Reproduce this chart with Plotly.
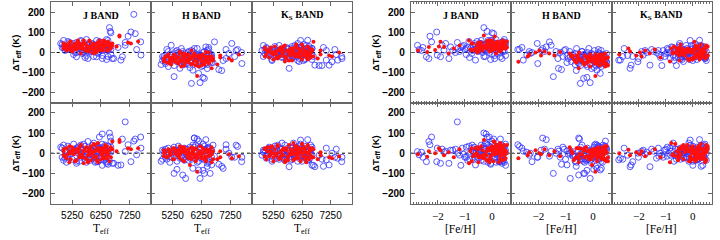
import plotly.graph_objects as go

# ---------------- data ----------------
# Blue open circles: one entry per star (Teff, [Fe/H], and the six Delta Teff values)
BLUE_TEFF = [7100, 7500, 5900, 6100, 5800, 7200, 7640, 7300, 7650, 5400,
             6000, 6400, 5600, 6700, 5200, 6500, 5300, 5500, 7100, 5800,
             6200, 5050, 6600, 5700, 6050, 5350, 6450, 4950, 5950, 6850,
             6550, 6580, 6600, 7450, 7400, 5900, 6300, 6350, 6200, 6150,
             5950, 5400, 6950, 7000, 6650, 6450, 6100, 6000, 5600, 6150,
             6500, 6450, 6350, 4850, 4950, 5000, 5100, 5150, 5250, 5300,
             5450, 5500, 5550, 5650, 5700, 5750, 5850, 5900, 6000, 6050,
             6100, 6200, 6250, 6300, 6350, 6400, 6450, 6500, 6300, 5200,
             5750, 6150, 4900, 5550,
             4900, 5000, 5100, 5200, 5300, 5400, 5450, 5550, 5650, 5750,
             5800, 5900, 5950, 6050, 6100, 6150, 6250, 6300, 6350, 6400,
             6450, 6500, 6550, 6600, 5050, 5350, 5600, 6000, 6200, 5850]
BLUE_FEH = [-2.75, -2.69, -2.55, -2.42, -2.33, -2.29, -2.23, -2.04, -2.02, -1.9,
            -1.84, -1.71, -1.77, -1.59, -1.53, -2.6, -1.45, -1.26, -1.28, -1.2,
            -1.1, -1.0, -0.95, -0.83, -0.79, -1.35, -1.05, -0.9, -0.73, -1.15,
            -0.3, -0.18, 0.0, 0.06, -3.3, -0.46, -0.22, -0.34, -0.1, 0.27,
            0.15, 0.03, -0.61, 0.31, 0.37, 0.25, -0.49, -0.52, -0.52, 0.46,
            -0.05, 0.1, 0.2, -0.65, -0.4, 0.1, -0.2, 0.35, -0.55, 0.0,
            0.2, -0.3, 0.4, -0.1, 0.25, -0.45, 0.05, 0.3, -0.25, 0.15,
            -0.6, 0.45, -0.15, 0.1, -0.4, 0.35, -0.05, 0.2, 0.5, -0.7,
            0.45, -0.35, 0.3, -0.15,
            -0.3, 0.4, -0.85, 0.15, -0.45, 0.3, -0.05, -0.65, 0.5, 0.1,
            -0.25, 0.4, -0.4, 0.25, 0.0, -0.75, 0.3, -0.2, 0.45, -0.5,
            0.15, -0.3, 0.4, -0.1, -0.15, 0.5, 0.2, 0.35, -0.55, -0.95]
BLUE_J1 = [36, 15, 25, -21, -30, 81, 53, 102, -13, -21,
           36, 45, 12, -30, 28, 10, 10, 20, 50, 5,
           30, 15, -10, -25, 20, 0, 35, 25, 10, 25,
           124, 105, 98, 94, 190, 30, 40, 15, 25, 20,
           35, 50, -38, -21, -30, 40, 20, 10, 5, 30,
           60, 30, 40, 45, 60, 30, 15, 50, 25, -10,
           40, 20, 55, 0, 35, 10, 45, 20, -20, 15,
           35, 5, 50, -30, 25, 40, -35, 15, -15, 35,
           65, 0, 25, 60,
           40, 10, 55, 20, 45, 0, 30, 15, 50, -15,
           35, 5, 45, 25, 60, -5, 30, 10, 45, 20,
           65, -20, 30, 15, 25, 35, -5, 40, 55, 20]
BLUE_H1 = [15, 15, -38, -13, 5, -5, 0, 45, -55, 10,
           20, 28, 5, 53, 36, 25, -120, -79, -30, 0,
           -20, 15, -50, -20, -45, 5, 10, -30, -10, -85,
           -30, -20, -10, 10, -20, -154, -124, -129, -150, -104,
           -88, -46, -90, -40, -50, -60, -20, -30, -35, -21,
           -5, -30, -40, -60, -20, -45, -70, -10, -35, -25,
           0, -50, -15, -60, -5, -40, -75, 10, -30, -55,
           20, -40, -15, -65, 5, -35, -80, 15, -45, -25,
           -55, -10, -40, 20,
           -20, -55, 5, -40, -65, -15, -35, -5, -50, -30,
           -60, -20, 5, -45, -35, -15, -70, 0, -40, -55,
           -25, -10, -45, -20, -30, -5, -45, -25, -50, -15]
BLUE_K1 = [-38, -38, 20, -15, -79, -63, -20, -46, -30, 5,
           -13, 0, 10, -63, 15, -20, 5, -10, 10, -25,
           10, -5, 20, -30, 28, 0, -20, 15, -15, -65,
           10, -5, 20, -10, 15, -30, 20, -10, 60, 10,
           -20, 0, -65, 25, -20, 61, 45, 0, -10, -30,
           15, -20, 0, 10, -5, 20, -15, 5, -25, 30,
           -10, 15, -20, 0, 25, -30, 10, -15, 35, -5,
           15, -25, 5, 40, -35, 20, -10, 30, -40, -40,
           15, -45, 35, 0,
           -20, 25, 0, -35, 15, -10, 35, -25, 5, 20,
           -5, 30, -20, 10, -40, 25, -15, 10, -30, 35,
           0, -20, 15, -35, 5, -15, 20, -10, 25, 0]
BLUE_J2 = [8, -8, -20, -42, 58, 42, 80, -42, 25, -50,
           20, 10, 5, -50, 15, 5, 15, 0, 155, -10,
           25, -20, 30, -30, 5, 20, -5, -35, 40, -60,
           100, 80, 60, 70, 60, 20, 95, -10, 80, -42,
           10, 25, -58, 70, -50, -42, 5, -20, 15, 10,
           -55, -20, 30, 30, 40, 10, -10, 20, -30, 45,
           0, -40, 25, -15, 35, 10, -25, 15, 50, -45,
           0, 30, -20, 20, -35, 40, -50, 10, -60, 5,
           -45, 15, -20, 40,
           25, -25, 35, -5, 10, -40, 30, -20, 45, -5,
           20, -35, 5, 35, -15, 25, -30, 45, 0, -25,
           15, 35, -40, 5, -45, 15, 0, -10, 20, -20]
BLUE_H2 = [42, 33, 10, 5, -10, 0, -42, -20, -20, 15,
           75, 67, 20, -15, 10, 25, -100, 10, 20, -20,
           30, -30, -58, -125, 10, 0, 20, -5, -15, -55,
           -100, 10, -20, 40, -20, -30, -85, -100, -125, -83,
           -75, -80, -65, -75, 40, -30, 70, 75, -108, 60,
           -30, -65, -10, -40, 10, -20, 25, -45, 5, -10,
           35, -25, 15, -35, 20, -5, 30, -15, 0, 40,
           -45, 25, -10, 45, -30, 15, -50, 30, -20, -5,
           20, -40, 15, -20,
           -30, 20, 0, -20, 30, -40, 10, -15, 25, -5,
           -35, 15, 40, -25, 5, -10, 20, -30, 35, -15,
           25, -45, 5, 15, -10, 15, -25, 30, -20, 10]
BLUE_K2 = [-33, -25, 25, -10, -67, -58, -42, 0, -20, 10,
           15, 5, -5, -67, 20, -30, 10, -15, 25, 0,
           -20, 20, 30, -10, 10, -25, 15, 0, 50, -10,
           0, 20, -60, 20, -20, -30, 10, -20, 65, 5,
           15, -10, -30, -65, -60, 67, 10, -5, 0, 25,
           10, 15, -10, -10, 15, -25, 30, 5, -20, 35,
           -30, 20, -5, 40, -15, 25, -35, 10, -20, 30,
           -5, 45, -40, 20, -15, 35, -5, -30, 0, -40,
           15, -25, 5, 50,
           15, -10, 25, -30, 5, 40, -15, 20, -35, 10,
           -20, 30, -5, 20, -40, 35, -10, 25, -25, 5,
           -35, 15, 40, -10, -5, 25, -25, 0, 20, -15]

# Red filled dots: one entry per star
RED_TEFF = [6300, 6100, 5800, 6500, 5900, 6200, 5500, 6000, 5600, 6400,
            6900, 6900, 7200, 7300, 7550, 6100, 6600, 6800, 5850, 6650,
            6400, 5950, 6550, 4950, 5000, 5050, 5100, 5150, 5200, 5250,
            5300, 5350, 5400, 5450, 5500, 5550, 5600, 5650, 5700, 5750,
            5800, 5850, 5900, 5950, 6000, 6050, 6100, 6150, 6200, 6250,
            6300, 6350, 6400, 6450, 6500, 6550, 6600, 6650, 5150, 5650,
            6050, 5350, 6250, 5950, 5500, 6350, 4950, 6150,
            4950, 5050, 5150, 5250, 5300, 5400, 5450, 5550, 5600, 5700,
            5750, 5850, 5900, 6000, 6050, 6100, 6200, 6250, 6300, 6400,
            6450, 6500, 6550, 6600, 5200, 5500, 5800, 6150, 5650, 6350]
RED_FEH = [-2.73, -2.39, -2.33, -2.1, -1.96, -1.9, -1.77, -1.6, -1.41, -1.2,
           -0.3, 0.1, -0.5, 0.3, -0.1, 0.09, -0.52, 0.46, -0.03, 0.06,
           0.37, -0.8, 0.2, -0.2, 0.3, -0.6, 0.1, -0.4, 0.45, -0.1,
           0.2, -0.75, 0.0, 0.35, -0.5, 0.15, -0.25, 0.5, -0.05, 0.25,
           -0.35, 0.4, -0.15, 0.05, 0.3, -0.45, 0.2, -0.1, 0.5, -0.65,
           0.1, -0.3, 0.45, 0.0, -0.2, 0.25, -0.45, 0.4, 0.25, -0.85,
           0.55, 0.05, 0.3, -0.55, 0.2, 0.15, 0.45, -0.75,
           0.15, -0.3, 0.5, -0.55, 0.35, -0.2, 0.0, 0.45, -0.7, 0.3,
           -0.1, 0.55, 0.2, -0.4, 0.1, 0.4, -0.15, 0.25, -0.6, 0.15,
           0.5, -0.35, 0.05, 0.35, 0.2, 0.45, -0.5, 0.3, 0.1, -0.05]
RED_J1 = [10, 3, 28, 12, 30, 53, 28, -5, 20, 35,
          85, 80, 50, 45, 55, 30, 40, 30, 20, 35,
          45, 15, 40, 20, 40, 10, 35, 50, 25, 5,
          30, 45, 15, 55, 25, -5, 35, 20, 45, 10,
          30, 60, 25, 40, 5, 35, 20, 50, 30, 15,
          45, 25, 40, 10, 55, 30, 20, 45, 15, 60,
          25, 30, 35, 0, 40, 50, 30, 10,
          45, 25, 50, 35, 15, 40, 60, 20, 45, 10,
          35, 55, 25, 45, 15, 40, 60, 30, 20, 50,
          35, 10, 45, 25, 55, 30, 5, 40, 20, 60]
RED_H1 = [-46, -20, -10, 0, 10, -15, 5, -5, -15, 3,
          -15, -25, -30, -40, -10, -117, -79, -60, -30, -40,
          -21, -20, -30, -35, -20, -50, -10, -40, -60, -25,
          -45, -15, -30, -55, 0, -40, -20, -65, -30, -10,
          -50, -35, -25, -55, -15, -40, -20, -70, -30, -45,
          -10, -60, -35, -25, -50, -20, -40, -30, -25, -5,
          -65, -35, -25, -15, -45, -55, -30, -20,
          -45, -20, -55, -30, -10, -50, -25, -70, -35, -15,
          -45, -25, -60, -40, -20, -50, -30, -65, -15, -45,
          -25, -55, -35, -20, -40, -5, -35, -15, -50, -40]
RED_K1 = [-10, 20, 5, -15, 0, -20, 10, -5, 15, -25,
          10, -10, -15, -20, 0, -10, 15, -30, 0, 53,
          -5, 20, -20, 15, -10, 5, -25, 20, 0, -35,
          30, -5, 10, -20, 25, -15, 0, 35, -30, 5,
          -10, 20, -40, 10, -20, 40, -5, 15, -25, 0,
          25, -15, 5, -35, 20, -5, 10, -20, 0, -45,
          30, -25, 40, -5, 15, -10, 25, 0,
          -20, 10, 25, -10, 5, -30, 15, 0, 30, -25,
          10, -15, 20, -5, 35, -20, 5, -35, 20, -10,
          30, 0, -25, 10, -5, 25, -40, 15, -20, 5]
RED_J2 = [-5, -17, 10, 0, 25, 15, -10, 5, -20, 20,
          65, 55, 25, 20, 25, 20, 20, 10, -10, 58,
          33, 10, 15, 10, -15, 25, -5, 35, -30, 15,
          0, -40, 20, 5, -20, 40, -5, 10, -25, 30,
          -10, 15, -35, 5, 45, -15, 20, -45, 10, -5,
          25, -25, 5, 35, -10, 15, -20, 20, -45, -50,
          40, 15, -30, 0, 30, 10, -10, 25,
          20, -25, 10, 30, -5, -35, 15, 40, -15, 25,
          -30, 0, 35, -20, 10, -35, 25, 5, -10, 40,
          -25, 15, -40, 30, 0, 20, -45, 50, 10, -15]
RED_H2 = [-25, -10, 5, 15, 0, -5, 20, -10, 10, -15,
          -20, 10, -5, -25, -15, -92, -45, -30, -58, 10,
          -20, 15, -10, -15, 5, -20, 20, -5, 10, -30,
          25, 0, -10, 15, -25, 5, 30, -40, 0, -15,
          20, -5, -30, 10, -20, 25, -10, 5, 35, -25,
          0, 15, -35, 20, -15, 10, -5, -30, -10, 30,
          -40, 15, -20, 25, -5, -25, 0, 5,
          15, -20, 5, 25, -30, 10, -15, 20, -35, 0,
          15, -20, 30, -5, 20, -25, 10, -15, 25, -40,
          5, 15, -10, 30, -5, 35, -25, 0, 20, -30]
RED_K2 = [0, 17, -10, 5, -5, 10, -15, 0, 20, -20,
          5, -10, -20, -25, -15, 5, 25, -30, 0, 20,
          -25, 50, -15, 20, -30, 10, -15, 30, 0, -40,
          20, -10, 35, -25, 5, -5, 25, -35, 15, -20,
          40, -5, 10, -30, 20, -10, 30, -25, 5, 45,
          -15, 15, -45, 0, 25, -10, 20, -20, -5, -45,
          35, 0, 45, -35, 10, -30, 25, -5,
          -15, 30, 10, -20, 0, 40, -30, 15, -10, 25,
          -35, 20, -5, 35, -25, 10, -40, 25, -15, 5,
          40, -30, 15, -20, 35, -25, 0, 20, -40, 30]

BAND_TITLES = ["J BAND", "H BAND", "K<sub>S</sub> BAND"]
TEFF_TICKS = [5250, 6250, 7250]
FEH_TICKS = [-2, -1, 0]
FEH_TICKTEXT = ["\u22122", "\u22121", "0"]
Y_TICKS = [-200, -100, 0, 100, 200]
Y_TICKTEXT = ["\u2212200", "\u2212100", "0", "100", "200"]

# ---------------- layout geometry ----------------
W, H = 720, 240
GROUP_X = [[50.7, 151.0, 252.0, 352.0], [410.7, 511.0, 612.0, 711.7]]
ROW_Y = [[2.3, 102.7], [102.7, 203.7]]
X_RANGES = [[4500, 8000], [-3.0, 0.7]]
AX = "#666666"

blue_y = [[BLUE_J1, BLUE_H1, BLUE_K1], [BLUE_J2, BLUE_H2, BLUE_K2]]
red_y = [[RED_J1, RED_H1, RED_K1], [RED_J2, RED_H2, RED_K2]]
blue_x = [BLUE_TEFF, BLUE_FEH]
red_x = [RED_TEFF, RED_FEH]

fig = go.Figure()
layout = {}
shapes = []
annotations = []

for g in range(2):
    for r in range(2):
        for b in range(3):
            n = g * 6 + r * 3 + b + 1
            xk = "xaxis" if n == 1 else f"xaxis{n}"
            yk = "yaxis" if n == 1 else f"yaxis{n}"
            xref = "x" if n == 1 else f"x{n}"
            yref = "y" if n == 1 else f"y{n}"
            x0, x1 = GROUP_X[g][b], GROUP_X[g][b + 1]
            y0, y1 = ROW_Y[r]
            xa = dict(
                domain=[x0 / W, x1 / W], range=X_RANGES[g], anchor=yref,
                showline=True, linecolor=AX, linewidth=1, mirror="ticks",
                ticks="inside", ticklen=4, tickcolor=AX, tickwidth=1,
                showgrid=False, zeroline=False,
                showticklabels=(r == 1), ticklabelstandoff=2,
            )
            if g == 0:
                xa.update(tickmode="array", tickvals=TEFF_TICKS,
                          tickfont=dict(family="Liberation Sans", size=10, color="black"))
            else:
                xa.update(tickmode="array", tickvals=FEH_TICKS, ticktext=FEH_TICKTEXT,
                          tickfont=dict(family="Liberation Serif", size=11, color="black"),
                          minor=dict(tickmode="linear", tick0=0, dtick=0.1, ticks="inside",
                                     ticklen=2, tickcolor=AX, showgrid=False))
            ya = dict(
                domain=[1 - y1 / H, 1 - y0 / H], range=[-250, 250], anchor=xref,
                showline=True, linecolor=AX, linewidth=1, mirror="ticks",
                ticks="inside", ticklen=4, tickcolor=AX, tickwidth=1,
                showgrid=False, zeroline=False,
                tickmode="array", tickvals=Y_TICKS, ticktext=Y_TICKTEXT,
                showticklabels=(b == 0), ticklabelstandoff=3,
                tickfont=dict(family="Liberation Sans", size=10, color="black", weight="bold"),
            )
            layout[xk] = xa
            layout[yk] = ya

            shapes.append(dict(type="line", xref=f"{xref} domain", yref=yref,
                               x0=0, x1=1, y0=0, y1=0, layer="below",
                               line=dict(color="black", width=1, dash="dot")))

            fig.add_trace(go.Scatter(
                x=blue_x[g], y=blue_y[r][b], mode="markers", xaxis=xref, yaxis=yref,
                marker=dict(symbol="circle-open", size=6, color="#3333ff",
                            line=dict(width=0.8)),
                showlegend=False, hoverinfo="skip"))
            fig.add_trace(go.Scatter(
                x=red_x[g], y=red_y[r][b], mode="markers", xaxis=xref, yaxis=yref,
                marker=dict(symbol="circle", size=4, color="#ff1010",
                            line=dict(width=0)),
                showlegend=False, hoverinfo="skip"))

            if r == 0:
                annotations.append(dict(
                    text=BAND_TITLES[b], xref="paper", yref="paper",
                    x=(x0 + x1) / 2 / W, y=1 - 15 / H, xanchor="center", yanchor="middle",
                    showarrow=False,
                    font=dict(family="Liberation Serif", size=10, color="black", weight="bold")))
            else:
                label = "T<sub>eff</sub>" if g == 0 else "[Fe/H]"
                annotations.append(dict(
                    text=label, xref="paper", yref="paper",
                    x=(x0 + x1) / 2 / W, y=1 - 229 / H, xanchor="center", yanchor="middle",
                    showarrow=False,
                    font=dict(family="Liberation Serif", size=11.5, color="black")))
        # y-axis label for each row of each group
        annotations.append(dict(
            text="\u0394T<sub>eff</sub> (K)", xref="paper", yref="paper",
            x=(GROUP_X[g][0] - 35) / W, y=1 - (ROW_Y[r][0] + ROW_Y[r][1]) / 2 / H,
            xanchor="center", yanchor="middle", textangle=-90, showarrow=False,
            font=dict(family="Liberation Sans", size=9.5, color="black", weight="bold")))

fig.update_layout(
    width=W, height=H, margin=dict(l=0, r=0, t=0, b=0),
    paper_bgcolor="white", plot_bgcolor="white",
    shapes=shapes, annotations=annotations, showlegend=False,
    **layout)

fig.write_html("out.html", config={"displayModeBar": False},
               post_script="document.body.style.margin='0';document.body.style.padding='0';")
